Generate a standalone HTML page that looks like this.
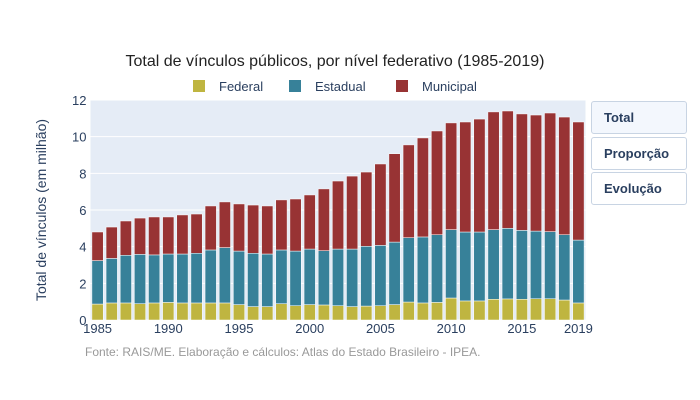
<!DOCTYPE html>
<html><head><meta charset="utf-8"><style>
body{margin:0;background:#fff;font-family:"Liberation Sans",sans-serif;}
#wrap{position:relative;width:700px;height:400px;overflow:hidden;}
.btn{position:absolute;left:591px;width:96px;border:1px solid #c8d4e3;border-radius:3px;background:#fff;font-weight:bold;font-size:13px;color:#2a3f5f;box-sizing:border-box;padding-left:12px;display:flex;align-items:center;}
</style></head><body>
<div id="wrap">
<svg id="chart" width="700" height="400"></svg>
<div class="btn" style="top:101px;height:33px;background:#f3f7fd">Total</div>
<div class="btn" style="top:137px;height:33px">Proporção</div>
<div class="btn" style="top:172px;height:33px">Evolução</div>
</div>
<script>
const years=[];for(let y=1985;y<=2019;y++)years.push(y);
const federal=[0.87,0.93,0.93,0.89,0.93,0.96,0.93,0.93,0.93,0.93,0.84,0.73,0.73,0.89,0.78,0.84,0.82,0.78,0.73,0.76,0.78,0.84,0.98,0.93,0.96,1.2,1.04,1.04,1.13,1.15,1.13,1.16,1.16,1.09,0.93];
const estadualTop=[3.24,3.36,3.53,3.58,3.55,3.6,3.6,3.64,3.82,3.95,3.76,3.64,3.6,3.82,3.76,3.87,3.78,3.87,3.87,4.02,4.07,4.25,4.49,4.53,4.65,4.93,4.8,4.8,4.93,5.0,4.89,4.85,4.82,4.65,4.36];
const totalTop=[4.8,5.07,5.4,5.56,5.62,5.62,5.73,5.78,6.22,6.44,6.33,6.27,6.22,6.55,6.6,6.82,7.15,7.58,7.85,8.07,8.51,9.07,9.55,9.93,10.31,10.75,10.8,10.96,11.35,11.4,11.24,11.18,11.29,11.07,10.8];
const estadual=estadualTop.map((v,i)=>v-federal[i]);
const municipal=totalTop.map((v,i)=>v-estadualTop[i]);
const yTicks=[0,2,4,6,8,10,12];
const xTicks=[1985,1990,1995,2000,2005,2010,2015,2019];
const X0=90.5,X1=585.5,Y0=320,Y1=100;
const step=(X1-X0)/years.length;
const xs=y=>X0+(y-1985+0.5)*step;
const ys=v=>Y0-(v/12)*(Y0-Y1);
const NS="http://www.w3.org/2000/svg";
const svg=document.getElementById('chart');
function mk(t,a,txt){const e=document.createElementNS(NS,t);for(const k in a)e.setAttribute(k,a[k]);if(txt!=null)e.textContent=txt;svg.appendChild(e);return e;}
let e=mk('rect',{x:X0,y:Y1,width:X1-X0,height:Y0-Y1,fill:'#e5ecf6'});


yTicks.forEach(t=>{
 const g=mk('line',{x1:X0,x2:X1,y1:ys(t),y2:ys(t),stroke:'#fff','stroke-width':1});
 
 
 const l=mk('text',{x:X0-4,y:ys(t)+5,'text-anchor':'end','font-size':13,fill:'#2a3f5f'},t);
 
 
});
xTicks.forEach(t=>{
 const l=mk('text',{x:xs(t),y:333,'text-anchor':'middle','font-size':13,fill:'#2a3f5f'},t);
 
 
});
const bw=step*0.8;
const series=[['federal',federal,'#bfb540'],['estadual',estadual,'#378199'],['municipal',municipal,'#983334']];
years.forEach((y,i)=>{
 let base=0;
 series.forEach(([n,arr,c])=>{
  const v=arr[i];
  const r=mk('rect',{x:xs(y)-bw/2,y:ys(base+v),width:bw,height:ys(base)-ys(base+v),fill:c,stroke:'#fff','stroke-width':0.5});
  
  
  base+=v;
 });
});
e=mk('text',{x:335,y:66,'text-anchor':'middle','font-size':16,fill:'#222'},'Total de vínculos públicos, por nível federativo (1985-2019)');


const leg=[['Federal',193,'#bfb540'],['Estadual',289,'#378199'],['Municipal',396,'#983334']];
leg.forEach(([n,x,c])=>{
 const r=mk('rect',{x:x,y:80,width:12,height:12,fill:c});
 
 
 const t=mk('text',{x:x+26,y:91,'font-size':13,fill:'#2a3f5f'},n);
 
 
});
e=mk('text',{x:0,y:0,transform:'translate(46,210) rotate(-90)','text-anchor':'middle','font-size':14,fill:'#2a3f5f'},'Total de vínculos (em milhão)');


e=mk('text',{x:85,y:356,'font-size':12,fill:'#999'},'Fonte: RAIS/ME. Elaboração e cálculos: Atlas do Estado Brasileiro - IPEA.');


</script>
</body></html>
